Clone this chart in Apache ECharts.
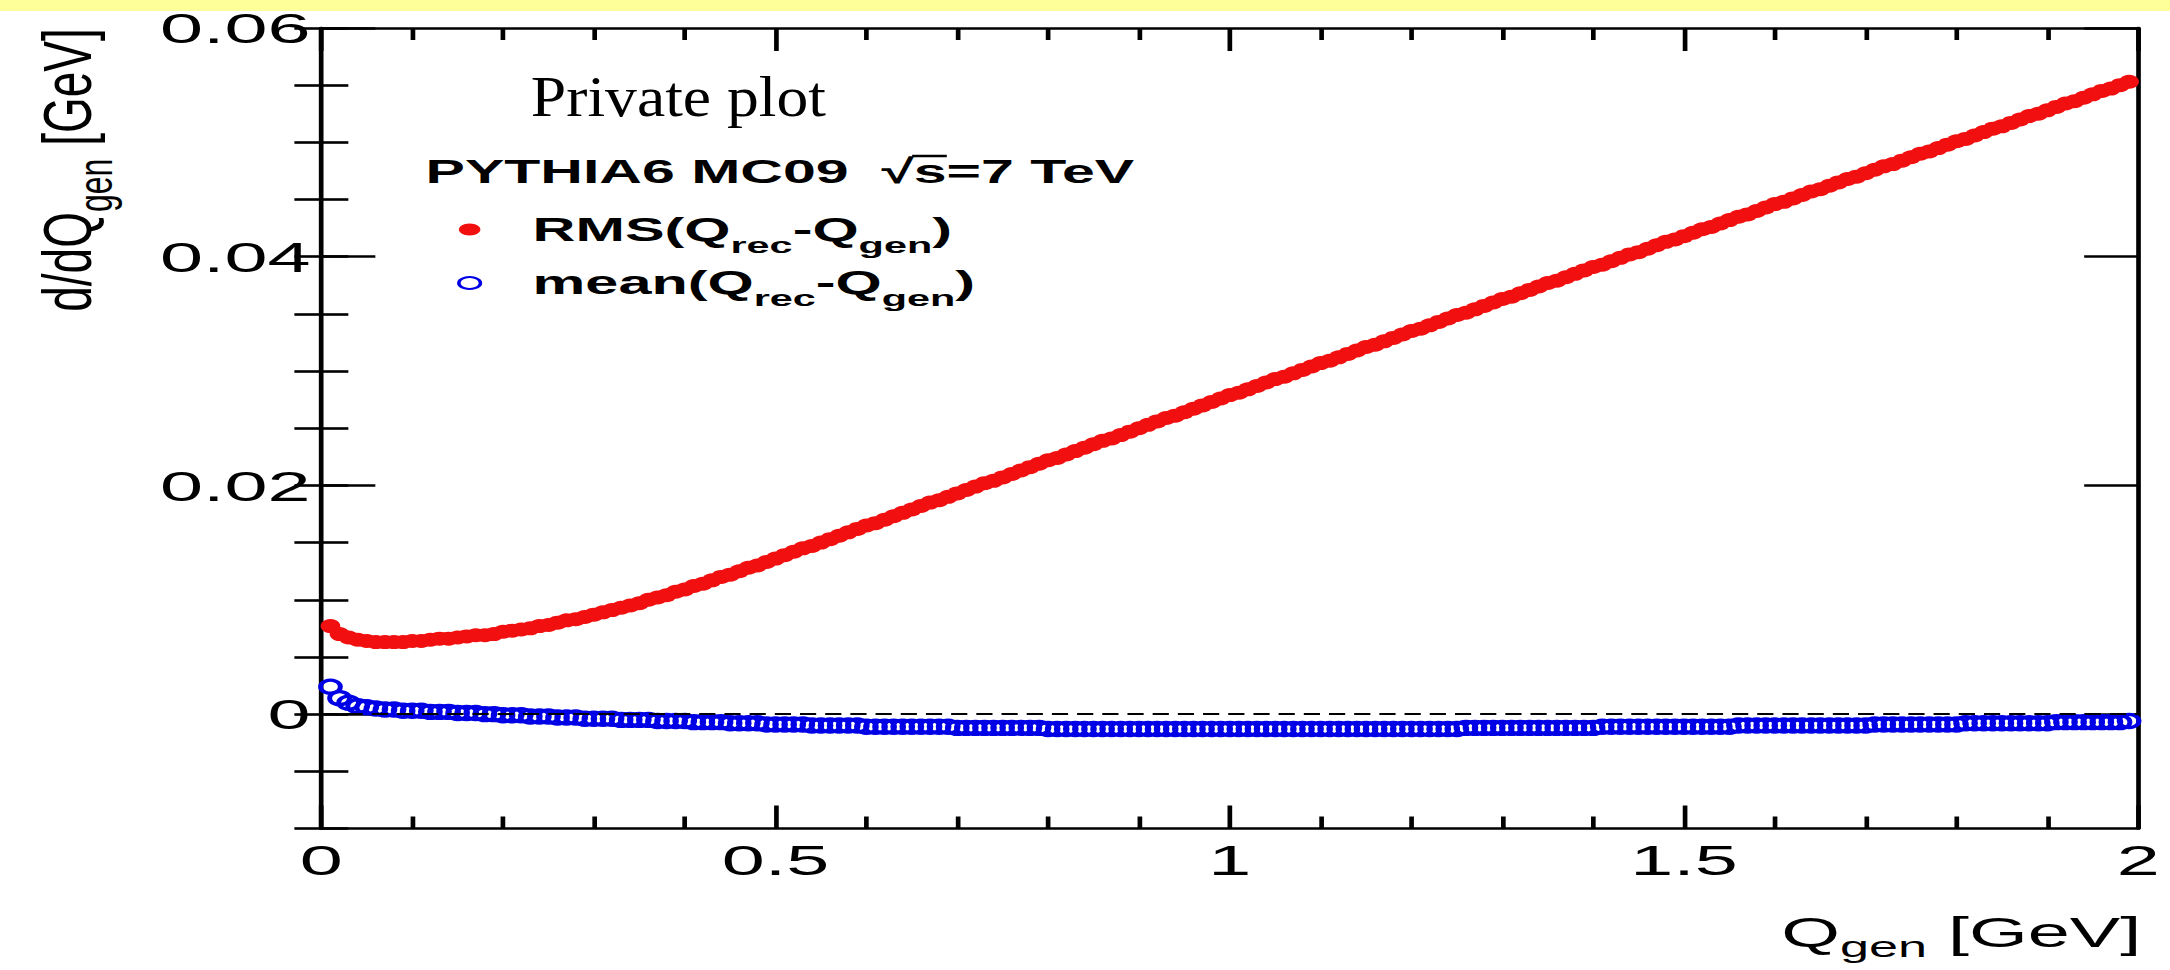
<!DOCTYPE html>
<html>
<head>
<meta charset="utf-8">
<script src="https://cdn.jsdelivr.net/npm/echarts@6.0.0/dist/echarts.min.js"></script>
<style>
  html, body { margin: 0; padding: 0; background: #fff; overflow: hidden; }
  #stage { width: 2170px; height: 970px; overflow: hidden; position: relative; background: #fff; }
  /* the ROOT canvas this figure comes from is stretched horizontally */
  #chart { width: 1206px; height: 970px; transform: scaleX(1.79934); transform-origin: 0 0; }
</style>
</head>
<body>
<div id="stage"><div id="chart"></div></div>
<script>
// Q_gen bin positions [GeV]
const qGen = [
  0.01,0.02,0.03,0.04,0.05,0.06,0.07,0.08,0.09,0.10,
  0.11,0.12,0.13,0.14,0.15,0.16,0.17,0.18,0.19,0.20,
  0.21,0.22,0.23,0.24,0.25,0.26,0.27,0.28,0.29,0.30,
  0.31,0.32,0.33,0.34,0.35,0.36,0.37,0.38,0.39,0.40,
  0.41,0.42,0.43,0.44,0.45,0.46,0.47,0.48,0.49,0.50,
  0.51,0.52,0.53,0.54,0.55,0.56,0.57,0.58,0.59,0.60,
  0.61,0.62,0.63,0.64,0.65,0.66,0.67,0.68,0.69,0.70,
  0.71,0.72,0.73,0.74,0.75,0.76,0.77,0.78,0.79,0.80,
  0.81,0.82,0.83,0.84,0.85,0.86,0.87,0.88,0.89,0.90,
  0.91,0.92,0.93,0.94,0.95,0.96,0.97,0.98,0.99,1.00,
  1.01,1.02,1.03,1.04,1.05,1.06,1.07,1.08,1.09,1.10,
  1.11,1.12,1.13,1.14,1.15,1.16,1.17,1.18,1.19,1.20,
  1.21,1.22,1.23,1.24,1.25,1.26,1.27,1.28,1.29,1.30,
  1.31,1.32,1.33,1.34,1.35,1.36,1.37,1.38,1.39,1.40,
  1.41,1.42,1.43,1.44,1.45,1.46,1.47,1.48,1.49,1.50,
  1.51,1.52,1.53,1.54,1.55,1.56,1.57,1.58,1.59,1.60,
  1.61,1.62,1.63,1.64,1.65,1.66,1.67,1.68,1.69,1.70,
  1.71,1.72,1.73,1.74,1.75,1.76,1.77,1.78,1.79,1.80,
  1.81,1.82,1.83,1.84,1.85,1.86,1.87,1.88,1.89,1.90,
  1.91,1.92,1.93,1.94,1.95,1.96,1.97,1.98,1.99
];

// RMS(Q_rec - Q_gen) per bin [GeV]
const rmsDiff = [
  0.0077,0.0070,0.0067,0.0065,0.0064,0.0063,0.0063,0.0063,0.0063,0.0064,
  0.0064,0.0065,0.0066,0.0066,0.0067,0.0068,0.0069,0.0069,0.0070,0.0072,
  0.0073,0.0074,0.0075,0.0077,0.0078,0.0080,0.0082,0.0083,0.0085,0.0087,
  0.0089,0.0091,0.0093,0.0095,0.0097,0.0100,0.0102,0.0104,0.0107,0.0109,
  0.0112,0.0114,0.0117,0.0120,0.0122,0.0125,0.0128,0.0130,0.0133,0.0136,
  0.0139,0.0142,0.0145,0.0147,0.0150,0.0153,0.0156,0.0159,0.0162,0.0165,
  0.0167,0.0170,0.0173,0.0176,0.0179,0.0182,0.0185,0.0187,0.0190,0.0193,
  0.0196,0.0199,0.0202,0.0204,0.0207,0.0210,0.0213,0.0216,0.0219,0.0222,
  0.0224,0.0227,0.0230,0.0233,0.0236,0.0239,0.0241,0.0244,0.0247,0.0250,
  0.0253,0.0256,0.0259,0.0261,0.0264,0.0267,0.0270,0.0273,0.0276,0.0279,
  0.0281,0.0284,0.0287,0.0290,0.0293,0.0295,0.0298,0.0301,0.0304,0.0307,
  0.0309,0.0312,0.0315,0.0318,0.0321,0.0323,0.0326,0.0329,0.0332,0.0335,
  0.0337,0.0340,0.0343,0.0346,0.0349,0.0351,0.0354,0.0357,0.0360,0.0363,
  0.0365,0.0368,0.0371,0.0374,0.0377,0.0379,0.0382,0.0385,0.0388,0.0391,
  0.0393,0.0396,0.0399,0.0402,0.0404,0.0407,0.0410,0.0413,0.0415,0.0418,
  0.0421,0.0424,0.0426,0.0429,0.0432,0.0435,0.0437,0.0440,0.0443,0.0446,
  0.0448,0.0451,0.0454,0.0457,0.0459,0.0462,0.0465,0.0468,0.0470,0.0473,
  0.0476,0.0479,0.0481,0.0484,0.0487,0.0490,0.0492,0.0495,0.0498,0.0501,
  0.0503,0.0506,0.0509,0.0512,0.0514,0.0517,0.0520,0.0523,0.0525,0.0528,
  0.0531,0.0534,0.0536,0.0539,0.0542,0.0545,0.0547,0.0550,0.0553
];

// mean(Q_rec - Q_gen) per bin [GeV]
const meanDiff = [
  0.0024,0.0014,0.0010,0.0007,0.0006,0.0005,0.0004,0.0004,0.0003,0.0003,
  0.0003,0.0002,0.0002,0.0002,0.0001,0.0001,0.0001,0.0000,0.0000,-0.0001,
  -0.0001,-0.0001,-0.0002,-0.0002,-0.0002,-0.0003,-0.0003,-0.0003,-0.0004,-0.0004,
  -0.0004,-0.0004,-0.0005,-0.0005,-0.0005,-0.0005,-0.0006,-0.0006,-0.0006,-0.0006,
  -0.0007,-0.0007,-0.0007,-0.0007,-0.0008,-0.0008,-0.0008,-0.0008,-0.0009,-0.0009,
  -0.0009,-0.0009,-0.0009,-0.0010,-0.0010,-0.0010,-0.0010,-0.0010,-0.0010,-0.0011,
  -0.0011,-0.0011,-0.0011,-0.0011,-0.0011,-0.0011,-0.0011,-0.0011,-0.0011,-0.0012,
  -0.0012,-0.0012,-0.0012,-0.0012,-0.0012,-0.0012,-0.0012,-0.0012,-0.0012,-0.0013,
  -0.0013,-0.0013,-0.0013,-0.0013,-0.0013,-0.0013,-0.0013,-0.0013,-0.0013,-0.0013,
  -0.0013,-0.0013,-0.0013,-0.0013,-0.0013,-0.0013,-0.0013,-0.0013,-0.0013,-0.0013,
  -0.0013,-0.0013,-0.0013,-0.0013,-0.0013,-0.0013,-0.0013,-0.0013,-0.0013,-0.0013,
  -0.0013,-0.0013,-0.0013,-0.0013,-0.0013,-0.0013,-0.0013,-0.0013,-0.0013,-0.0013,
  -0.0013,-0.0013,-0.0013,-0.0013,-0.0013,-0.0012,-0.0012,-0.0012,-0.0012,-0.0012,
  -0.0012,-0.0012,-0.0012,-0.0012,-0.0012,-0.0012,-0.0012,-0.0012,-0.0012,-0.0012,
  -0.0011,-0.0011,-0.0011,-0.0011,-0.0011,-0.0011,-0.0011,-0.0011,-0.0011,-0.0011,
  -0.0011,-0.0011,-0.0011,-0.0011,-0.0011,-0.0010,-0.0010,-0.0010,-0.0010,-0.0010,
  -0.0010,-0.0010,-0.0010,-0.0010,-0.0010,-0.0010,-0.0010,-0.0010,-0.0010,-0.0010,
  -0.0009,-0.0009,-0.0009,-0.0009,-0.0009,-0.0009,-0.0009,-0.0009,-0.0009,-0.0009,
  -0.0008,-0.0008,-0.0008,-0.0008,-0.0008,-0.0008,-0.0008,-0.0008,-0.0008,-0.0008,
  -0.0007,-0.0007,-0.0007,-0.0007,-0.0007,-0.0007,-0.0007,-0.0007,-0.0006
];

// axis ranges and tick positions
const xRange = [0, 2];
const xMajorStep = 0.5;
const xMinorSplit = 5;
const yRange = [-0.01, 0.06];
const yMajorTicks = [0, 0.02, 0.04, 0.06];
const yMinorStep = 0.005;

// texts
const seriesNames = ['RMS', 'mean'];
const legendTexts = {
  RMS: '{m|RMS(Q}{s|rec}{m|-Q}{s|gen}{m|)}',
  mean: '{m|mean(Q}{s|rec}{m|-Q}{s|gen}{m|)}'
};
const xTitle = '{m|Q}{s|gen}{m| [GeV]}';
const yTitle = '{m|d/dQ}{s|gen}{m| [GeV]}';
const tagText = 'Private plot';
const samplePrefix = 'PYTHIA6 MC09  \u221A';
const sampleText = samplePrefix + 's=7 TeV';

const SANS = '"Liberation Sans", Arial, Helvetica, sans-serif';
const SERIF = '"Liberation Serif", "Times New Roman", serif';
const RED = '#f20f0f';
const BLUE = '#0000e6';
const frameStyle = { color: '#000', width: 2.6 };

const rmsPoints = qGen.map((q, i) => [q, rmsDiff[i]]);
const meanPoints = qGen.map((q, i) => [q, meanDiff[i]]);

const chart = echarts.init(document.getElementById('chart'), null, {
  renderer: 'svg', width: 1206, height: 970
});

// bar over the "s" under the square-root sign, placed from the measured text width
const sampleFont = 'bold 34px ' + SANS;
const sampleX = 236.5, sampleY = 171, sampleScale = 0.965;
const measureCtx = document.createElement('canvas').getContext('2d');
measureCtx.font = sampleFont;
const barX1 = sampleX + measureCtx.measureText(samplePrefix).width * sampleScale - 1;
const barX2 = barX1 + measureCtx.measureText('s').width * sampleScale + 1;

function yAxisMajor(position, showLabels) {
  return {
    type: 'value', position: position, min: yRange[0], max: yRange[1],
    axisLine: { show: true, onZero: false, lineStyle: frameStyle },
    axisTick: { show: true, inside: true, length: 30, customValues: yMajorTicks, lineStyle: frameStyle },
    axisLabel: {
      show: showLabels, customValues: yMajorTicks, margin: 6,
      fontFamily: SANS, fontSize: 43, color: '#000'
    },
    splitLine: { show: false }
  };
}
function yAxisMinor(position) {
  return {
    type: 'value', position: position, min: yRange[0], max: yRange[1], interval: yMinorStep,
    axisLine: { show: false },
    axisTick: { show: true, inside: true, length: 15, lineStyle: frameStyle },
    axisLabel: { show: false },
    splitLine: { show: false }
  };
}
function xAxisFrame(position, showLabels) {
  return {
    type: 'value', position: position, min: xRange[0], max: xRange[1], interval: xMajorStep,
    axisLine: { show: true, onZero: false, lineStyle: frameStyle },
    axisTick: { show: true, inside: true, length: 23, lineStyle: frameStyle },
    minorTick: { show: true, splitNumber: xMinorSplit, length: 12, lineStyle: frameStyle },
    axisLabel: {
      show: showLabels, margin: 10,
      fontFamily: SANS, fontSize: 43, color: '#000'
    },
    splitLine: { show: false }
  };
}

const richTokens = (size, subSize, lh) => ({
  m: { fontFamily: SANS, fontSize: size, fill: '#000', lineHeight: lh },
  s: { fontFamily: SANS, fontSize: subSize, fill: '#000', lineHeight: subSize, verticalAlign: 'bottom' }
});

chart.setOption({
  animation: false,
  backgroundColor: '#fff',
  grid: { left: 178.6, right: 17.7, top: 28, bottom: 141.5, outerBoundsMode: 'none' },
  xAxis: [xAxisFrame('bottom', true), xAxisFrame('top', false)],
  yAxis: [yAxisMajor('left', true), yAxisMinor('left'), yAxisMajor('right', false), yAxisMinor('right')],
  legend: {
    orient: 'vertical', left: 249, top: 208,
    itemWidth: 60, itemHeight: 12, itemGap: 10,
    selectedMode: false,
    data: seriesNames,
    formatter: name => legendTexts[name],
    textStyle: {
      color: '#000',
      rich: {
        m: { fontFamily: SANS, fontWeight: 'bold', fontSize: 33, color: '#000', lineHeight: 54 },
        s: { fontFamily: SANS, fontWeight: 'bold', fontSize: 23, color: '#000', lineHeight: 23, verticalAlign: 'bottom' }
      }
    }
  },
  series: [
    {
      name: seriesNames[0], type: 'scatter', data: rmsPoints,
      xAxisIndex: 0, yAxisIndex: 0,
      symbol: 'circle', symbolSize: [11, 14],
      itemStyle: { color: RED, opacity: 1 },
      emphasis: { disabled: true }, z: 3
    },
    {
      name: seriesNames[1], type: 'scatter', data: meanPoints,
      xAxisIndex: 0, yAxisIndex: 0,
      symbol: 'circle', symbolSize: [11, 13],
      itemStyle: { color: 'rgba(0,0,0,0)', borderColor: BLUE, borderWidth: 3, opacity: 1 },
      emphasis: { disabled: true }, z: 4,
      markLine: {
        silent: true, symbol: 'none', label: { show: false },
        lineStyle: { color: '#000', type: [9, 5], width: 2 },
        data: [{ yAxis: 0 }]
      }
    }
  ],
  graphic: [
    {
      type: 'rect', z: 100, silent: true,
      shape: { x: 0, y: 0, width: 1206, height: 11 },
      style: { fill: '#ffff99' }
    },
    {
      type: 'text', x: 295, y: 96, scaleX: 0.61, silent: true,
      style: { text: tagText, fontFamily: SERIF, fontSize: 58, fill: '#000', verticalAlign: 'middle' }
    },
    {
      type: 'text', x: sampleX, y: sampleY, scaleX: sampleScale, silent: true,
      style: { text: sampleText, font: sampleFont, fill: '#000', verticalAlign: 'middle' }
    },
    {
      type: 'line', silent: true,
      shape: { x1: barX1, y1: sampleY - 15, x2: barX2, y2: sampleY - 15 },
      style: { stroke: '#000', lineWidth: 2.4 }
    },
    {
      type: 'text', x: 1190, y: 933, silent: true,
      style: { text: xTitle, align: 'right', verticalAlign: 'middle', rich: richTokens(42, 29, 58) }
    },
    {
      type: 'text', x: 37.2, y: 170, rotation: Math.PI / 2, scaleY: 0.83, silent: true,
      style: { text: yTitle, align: 'center', verticalAlign: 'middle', rich: richTokens(46, 32, 70) }
    }
  ]
});
</script>
</body>
</html>
